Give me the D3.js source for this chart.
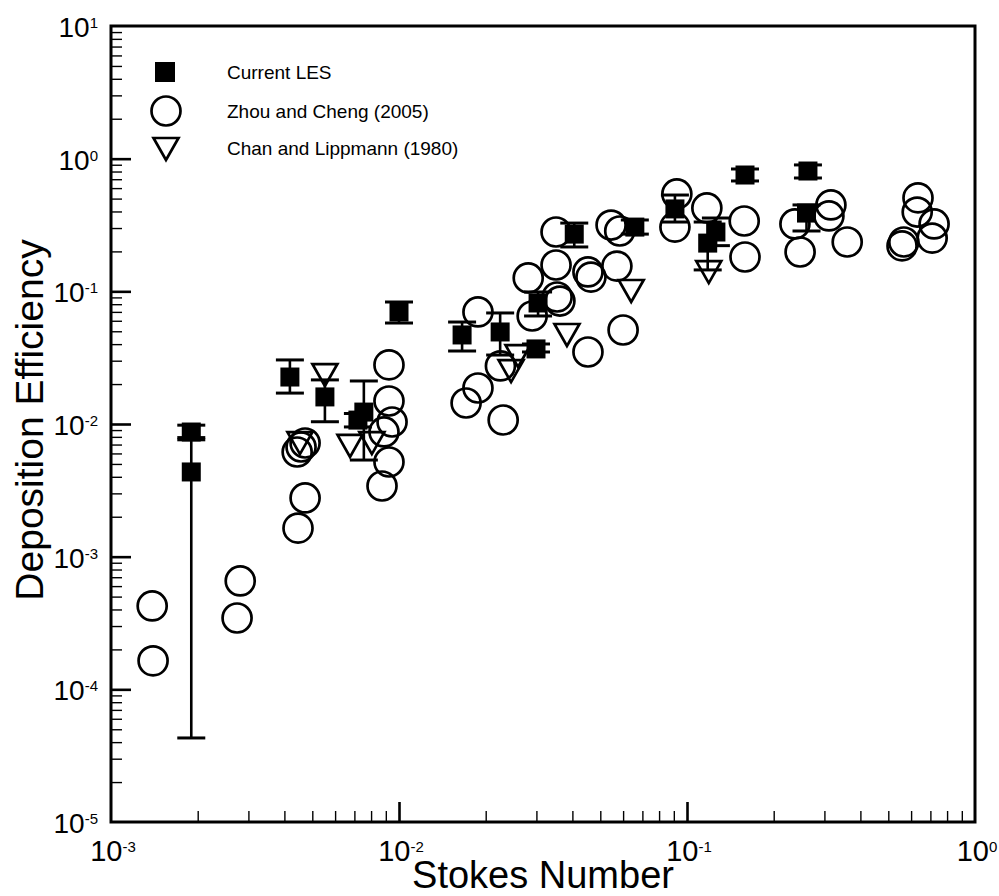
<!DOCTYPE html>
<html>
<head>
<meta charset="utf-8">
<script src="https://cdn.jsdelivr.net/npm/d3@7"></script>
<style>
    body { margin: 0; background: #fff; }
    text { font-family: "Liberation Sans", Arial, Helvetica, sans-serif; fill: #000; }
</style>
</head>
<body>
<div id="chart"></div>
<script>
// Current LES: stokes number, efficiency, error bar low / high
const lesX  = [0.0019, 0.0019, 0.00418, 0.00553, 0.00755, 0.0072, 0.0100, 0.01656, 0.02245, 0.0299, 0.0304, 0.0406, 0.0659, 0.0908, 0.126, 0.118, 0.159, 0.263, 0.260];
const lesY  = [0.0087, 0.00435, 0.0226, 0.0160, 0.0123, 0.0107, 0.0699, 0.0469, 0.0494, 0.0368, 0.0817, 0.270, 0.305, 0.418, 0.280, 0.231, 0.753, 0.807, 0.389];
const lesLo = [0.0076, 0.000043, 0.0171, 0.0104, 0.00535, 0.0095, 0.0577, 0.0355, 0.0331, 0.0349, 0.0652, 0.216, 0.270, 0.333, 0.221, 0.145, 0.679, 0.715, 0.285];
const lesHi = [0.0098, 0.0079, 0.0304, 0.0215, 0.0211, 0.0120, 0.0831, 0.0587, 0.0687, 0.0401, 0.0989, 0.327, 0.345, 0.532, 0.357, 0.333, 0.836, 0.897, 0.448];

// Zhou and Cheng (2005)
const zhouX = [0.00139, 0.00140, 0.00281, 0.00274, 0.00443, 0.00457, 0.00472, 0.00472, 0.00446,
               0.00923, 0.00923, 0.00946, 0.00887, 0.00923, 0.00873,
               0.0188, 0.0188, 0.0171, 0.0230, 0.0225, 0.0281, 0.0290, 0.0354, 0.0362, 0.0351, 0.0351,
               0.0453, 0.0464, 0.0453, 0.0571, 0.0545, 0.0584, 0.0600,
               0.0922, 0.0908, 0.1172, 0.158, 0.159, 0.237, 0.247, 0.316, 0.311, 0.360,
               0.634, 0.630, 0.721, 0.710, 0.566, 0.558];
const zhouY = [0.000425, 0.000164, 0.000656, 0.000345, 0.00615, 0.00671, 0.00719, 0.00277, 0.00164,
               0.0279, 0.0149, 0.01035, 0.00871, 0.00517, 0.00341,
               0.0699, 0.01868, 0.0144, 0.01072, 0.0274, 0.1262, 0.0652, 0.0906, 0.0845, 0.158, 0.280,
               0.140, 0.128, 0.0349, 0.155, 0.316, 0.285, 0.0511,
               0.542, 0.305, 0.425, 0.339, 0.1815, 0.322, 0.198, 0.448, 0.370, 0.2355,
               0.506, 0.396, 0.322, 0.252, 0.2355, 0.220];

// Chan and Lippmann (1980)
const chanX = [0.00453, 0.00553, 0.00676, 0.00805, 0.0259, 0.0245, 0.0383, 0.0640, 0.119];
const chanY = [0.00731, 0.0238, 0.00695, 0.00731, 0.0331, 0.0255, 0.0477, 0.1023, 0.142];

const xDecades = [-3, -2, -1, 0];
const yDecades = [-5, -4, -3, -2, -1, 0, 1];
const legendLabels = ["Current LES", "Zhou and Cheng (2005)", "Chan and Lippmann (1980)"];

const width = 999, height = 896;
const plot = {left: 111, right: 975, top: 26, bottom: 822};

const svg = d3.select("#chart").append("svg")
    .attr("width", width)
    .attr("height", height);

const x = d3.scaleLog().domain([1e-3, 1]).range([plot.left, plot.right]);
const y = d3.scaleLog().domain([1e-5, 10]).range([plot.bottom, plot.top]);

// minor ticks 2..9 inside each decade
function minorTicks(decades) {
    const out = [];
    decades.slice(0, -1).forEach(e => {
        for (let k = 2; k <= 9; k++) out.push(k * Math.pow(10, e));
    });
    return out;
}
const xMajor = xDecades.map(e => Math.pow(10, e));
const yMajor = yDecades.map(e => Math.pow(10, e));

function tickLayer(axis, transform, width) {
    svg.append("g")
        .attr("transform", transform)
        .call(axis)
        .call(g => g.select(".domain").remove())
        .call(g => g.selectAll("text").remove())
        .selectAll("line")
        .attr("stroke", "#000")
        .attr("stroke-width", width);
}

tickLayer(d3.axisBottom(x).tickValues(minorTicks(xDecades)).tickSize(-11), `translate(0,${plot.bottom})`, 1.4);
tickLayer(d3.axisBottom(x).tickValues(xMajor.slice(1, -1)).tickSize(-20), `translate(0,${plot.bottom})`, 2.6);
tickLayer(d3.axisLeft(y).tickValues(minorTicks(yDecades)).tickSize(-11), `translate(${plot.left},0)`, 1.4);
tickLayer(d3.axisLeft(y).tickValues(yMajor.slice(1, -1)).tickSize(-20), `translate(${plot.left},0)`, 2.6);

// frame
svg.append("rect")
    .attr("x", plot.left)
    .attr("y", plot.top)
    .attr("width", plot.right - plot.left)
    .attr("height", plot.bottom - plot.top)
    .attr("fill", "none")
    .attr("stroke", "#000")
    .attr("stroke-width", 3);

// tick labels 10^n
function powerLabel(sel, e) {
    sel.append("tspan").text("10");
    sel.append("tspan").attr("dy", -9).attr("font-size", 15).text(e);
}

svg.selectAll(".xlab")
    .data(xDecades)
    .enter()
    .append("text")
    .attr("class", "xlab")
    .attr("x", d => x(Math.pow(10, d)) + 2)
    .attr("y", plot.bottom + 39)
    .attr("text-anchor", "middle")
    .attr("font-size", 29)
    .each(function (d) { powerLabel(d3.select(this), d); });

svg.selectAll(".ylab")
    .data(yDecades)
    .enter()
    .append("text")
    .attr("class", "ylab")
    .attr("x", plot.left - 13)
    .attr("y", d => y(Math.pow(10, d)) + 11)
    .attr("text-anchor", "end")
    .attr("font-size", 28)
    .each(function (d) { powerLabel(d3.select(this), d); });

svg.append("text")
    .attr("x", (plot.left + plot.right) / 2)
    .attr("y", 888)
    .attr("text-anchor", "middle")
    .attr("font-size", 38)
    .text("Stokes Number");

svg.append("text")
    .attr("transform", `translate(43,${(plot.top + plot.bottom) / 2 - 4}) rotate(-90)`)
    .attr("text-anchor", "middle")
    .attr("font-size", 39)
    .text("Deposition Efficiency");

const triPath = "M -12.5,-10 L 12.5,-10 L 0,12 Z";

const marks = svg.append("g");

// Zhou circles (hollow)
marks.selectAll(".zhou")
    .data(zhouX)
    .enter()
    .append("circle")
    .attr("class", "zhou")
    .attr("cx", d => x(d))
    .attr("cy", (d, i) => y(zhouY[i]))
    .attr("r", 14.5)
    .attr("fill", "none")
    .attr("stroke", "#000")
    .attr("stroke-width", 2.7);

// Chan triangles
marks.selectAll(".chan")
    .data(chanX)
    .enter()
    .append("path")
    .attr("class", "chan")
    .attr("d", triPath)
    .attr("transform", (d, i) => `translate(${x(d)},${y(chanY[i])})`)
    .attr("fill", "none")
    .attr("stroke", "#000")
    .attr("stroke-width", 2.7);

// LES with error bars
const les = marks.selectAll(".les")
    .data(lesX)
    .enter()
    .append("g")
    .attr("class", "les");

les.append("line")
    .attr("x1", d => x(d))
    .attr("x2", d => x(d))
    .attr("y1", (d, i) => y(lesLo[i]))
    .attr("y2", (d, i) => y(lesHi[i]))
    .attr("stroke", "#000")
    .attr("stroke-width", 2.6);

[lesLo, lesHi].forEach(arr => {
    les.append("line")
        .attr("x1", d => x(d) - 14)
        .attr("x2", d => x(d) + 14)
        .attr("y1", (d, i) => y(arr[i]))
        .attr("y2", (d, i) => y(arr[i]))
        .attr("stroke", "#000")
        .attr("stroke-width", 3);
});

les.append("rect")
    .attr("x", d => x(d) - 9.5)
    .attr("y", (d, i) => y(lesY[i]) - 9.5)
    .attr("width", 19)
    .attr("height", 19)
    .attr("fill", "#000");

// legend
const legend = svg.append("g");
const legendY = [72, 111, 148];

legend.append("rect")
    .attr("x", 155).attr("y", legendY[0] - 10)
    .attr("width", 20).attr("height", 20)
    .attr("fill", "#000");

legend.append("circle")
    .attr("cx", 166).attr("cy", legendY[1])
    .attr("r", 14.5)
    .attr("fill", "none")
    .attr("stroke", "#000")
    .attr("stroke-width", 2.7);

legend.append("path")
    .attr("d", triPath)
    .attr("transform", `translate(166,${legendY[2]})`)
    .attr("fill", "none")
    .attr("stroke", "#000")
    .attr("stroke-width", 2.7);

legend.selectAll(".legtext")
    .data(legendLabels)
    .enter()
    .append("text")
    .attr("class", "legtext")
    .attr("x", 227)
    .attr("y", (d, i) => legendY[i] + 7)
    .attr("font-size", 19)
    .text(d => d);
</script>
</body>
</html>
